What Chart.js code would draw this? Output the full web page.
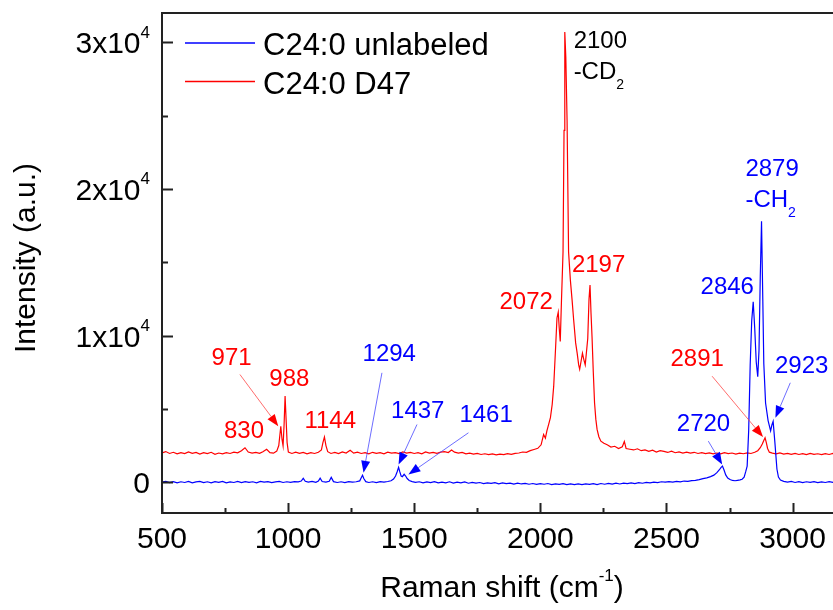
<!DOCTYPE html>
<html>
<head>
<meta charset="utf-8">
<script src="https://cdn.jsdelivr.net/npm/chart.js@4/dist/chart.umd.min.js"></script>
<style>
  html, body { margin: 0; padding: 0; overflow: hidden; background: #fff; }
  canvas { display: block; }
</style>
</head>
<body>
<canvas id="chart" width="843" height="610"></canvas>
<script>
// C24:0 D47 spectrum
const d47Shift = [
  500, 515, 530, 545, 560, 575, 590, 605, 620, 635,
  650, 665, 680, 695, 710, 725, 740, 755, 770, 785,
  800, 815, 829, 842, 857, 872, 887, 900, 915, 928,
  942, 955, 963, 971, 976, 980, 984, 988, 992, 996,
  1001, 1015, 1030, 1045, 1060, 1075, 1090, 1105, 1120, 1132,
  1138, 1144, 1150, 1157, 1170, 1185, 1200, 1215, 1230, 1246,
  1260, 1275, 1290, 1305, 1320, 1335, 1350, 1365, 1380, 1395,
  1410, 1425, 1440, 1455, 1470, 1485, 1500, 1515, 1530, 1545,
  1560, 1575, 1590, 1605, 1620, 1635, 1648, 1660, 1675, 1690,
  1705, 1720, 1735, 1750, 1765, 1780, 1795, 1810, 1825, 1840,
  1855, 1870, 1885, 1900, 1915, 1930, 1945, 1960, 1975, 1990,
  2003, 2013, 2020, 2026, 2033, 2040, 2047, 2053, 2060, 2066,
  2071, 2075, 2079, 2084, 2090, 2094, 2097, 2101, 2106, 2112,
  2119, 2126, 2132, 2140, 2146, 2152, 2156, 2162, 2167, 2172,
  2178, 2183, 2188, 2193, 2197, 2201, 2205, 2210, 2215, 2220,
  2225, 2232, 2240, 2252, 2265, 2280, 2295, 2310, 2325, 2333,
  2340, 2355, 2370, 2385, 2400, 2415, 2430, 2445, 2460, 2475,
  2490, 2505, 2520, 2535, 2550, 2565, 2580, 2595, 2610, 2625,
  2640, 2655, 2670, 2685, 2700, 2715, 2730, 2745, 2760, 2775,
  2790, 2805, 2820, 2835, 2850, 2862, 2872, 2880, 2886, 2891,
  2896, 2901, 2908, 2920, 2935, 2950, 2965, 2980, 2995, 3010,
  3025, 3040, 3055, 3070, 3085, 3100, 3115, 3130, 3145, 3160,
  3175, 3190, 3200
]
const d47Intensity = [
  2000, 2090, 1960, 2040, 1930, 2020, 1950, 2060, 1970, 2030,
  1920, 2010, 1950, 2040, 1900, 1990, 1940, 2020, 1960, 2050,
  2000, 2150, 2350, 2060, 1990, 2040, 1970, 2080, 2250, 2020,
  1980, 2120, 2500, 3820, 2900, 2480, 3900, 5870, 4300, 2700,
  2050, 1960, 2050, 1970, 2030, 1940, 2010, 1960, 2040, 2200,
  2700, 3080, 2500, 2080, 1960, 2030, 1950, 2060, 1990, 2180,
  1980, 2050, 1960, 2020, 1930, 2040, 1970, 2010, 1940, 2050,
  1980, 2020, 1950, 2060, 1990, 2030, 1960, 2010, 1940, 2060,
  1980, 2040, 1970, 2050, 2080, 2020, 2190, 2050, 1990, 2030,
  1940, 1980, 1910, 1960, 1890, 1940, 1880, 1930, 1870, 1920,
  1880, 1950, 1900, 1970, 1990, 2060, 2040, 2150, 2230, 2310,
  2550, 3250, 3000, 3500, 3950, 4400, 5300, 6550, 9000, 11200,
  11600, 10500, 9600, 12500, 15700, 24000, 30700, 29000, 24700, 15700,
  13800, 12400, 11100, 9500, 8800, 8000, 7700, 8300, 8800, 8400,
  8000, 8900, 9800, 12500, 13450, 11500, 9900, 7500, 5400, 4300,
  3600, 3100, 2800, 2650, 2550, 2400, 2450, 2300, 2420, 2780,
  2300, 2250, 2200, 2280, 2150, 2200, 2100, 2180, 2060, 2150,
  2100, 2030, 2120, 2010, 2070, 1990, 2050, 1980, 2040, 1960,
  2020, 1950, 2000, 1940, 1990, 1930, 2010, 1950, 1990, 1920,
  1980, 1940, 2000, 1960, 2040, 2150, 2350, 2600, 2850, 3030,
  2700, 2300, 2050, 1980, 1930, 2000, 1920, 1970, 1900, 1960,
  1890, 1950, 1880, 1960, 1900, 1940, 1880, 1950, 1890, 1960,
  1900, 1940, 1910
]

// C24:0 unlabeled spectrum
const unlabeledShift = [
  500, 515, 530, 545, 560, 575, 590, 605, 620, 635,
  650, 665, 680, 695, 710, 725, 740, 755, 770, 785,
  800, 815, 830, 845, 860, 875, 890, 905, 920, 935,
  950, 965, 980, 995, 1010, 1025, 1040, 1052, 1060, 1068,
  1080, 1095, 1110, 1120, 1127, 1135, 1150, 1163, 1171, 1180,
  1195, 1210, 1225, 1240, 1255, 1270, 1284, 1290, 1295, 1300,
  1308, 1320, 1335, 1350, 1365, 1380, 1395, 1408, 1418, 1426,
  1432, 1438, 1443, 1448, 1453, 1460, 1466, 1472, 1480, 1492,
  1505, 1520, 1535, 1550, 1565, 1580, 1595, 1610, 1625, 1640,
  1655, 1670, 1685, 1700, 1715, 1730, 1745, 1760, 1775, 1790,
  1805, 1820, 1835, 1850, 1865, 1880, 1895, 1910, 1925, 1940,
  1955, 1970, 1985, 2000, 2015, 2030, 2045, 2060, 2075, 2090,
  2105, 2120, 2135, 2150, 2165, 2180, 2195, 2210, 2225, 2240,
  2255, 2270, 2285, 2300, 2315, 2330, 2345, 2360, 2375, 2390,
  2405, 2420, 2435, 2450, 2465, 2480, 2495, 2510, 2525, 2540,
  2555, 2570, 2585, 2600, 2615, 2630, 2645, 2660, 2675, 2688,
  2700, 2710, 2716, 2722, 2728, 2735, 2743, 2752, 2762, 2772,
  2782, 2792, 2800, 2808, 2814, 2820, 2826, 2832, 2838, 2844,
  2850, 2856, 2862, 2867, 2872, 2877, 2882, 2886, 2893, 2903,
  2913, 2918, 2923, 2930, 2938, 2944, 2952, 2965, 2980, 2995,
  3010, 3025, 3040, 3055, 3070, 3085, 3100, 3115, 3130, 3145,
  3160, 3175, 3190, 3200
]
const unlabeledIntensity = [
  0, 60, -30, 40, -50, 30, -20, 50, -40, 20,
  60, -30, 30, -50, 40, -10, 60, -40, 20, -20,
  50, -30, 40, -10, 30, -40, 50, 0, 40, -30,
  20, 60, -20, 30, -10, 40, 20, 80, 260, 60,
  10, 50, -10, 80, 280, 50, 10, 60, 330, 40,
  -20, 30, -30, 40, 0, 30, 90, 300, 480, 250,
  40, -20, 30, -30, 40, 0, 50, 100, 220, 420,
  700, 1020, 700, 420, 380, 540, 420, 250, 120, 40,
  -10, 30, -40, 20, -30, 40, -50, 10, -40, 30,
  -60, 0, -50, 20, -70, -10, -60, -20, -90, -40,
  -80, -30, -110, -50, -100, -60, -130, -70, -120, -80,
  -140, -90, -150, -100, -140, -90, -160, -110, -150, -100,
  -170, -120, -160, -110, -170, -120, -150, -100, -160, -90,
  -140, -80, -130, -70, -120, -60, -100, -40, -90, -30,
  -70, -10, -50, 10, -30, 30, 0, 40, 10, 60,
  30, 80, 60, 110, 130, 180, 240, 300, 380, 480,
  650, 850, 1000, 1100, 850, 500, 280, 180, 120, 100,
  130, 160, 200, 350, 700, 1100, 3500, 8000, 11000, 12300,
  10500, 8200, 7200, 9000, 14000, 17800, 12500, 8100, 5400, 4200,
  3500, 3900, 4150, 2700, 900, 350, 150, 60, 10, 50,
  -20, 40, -30, 30, -10, 40, -30, 20, -20, 40,
  -10, 30, -20, 10
]

const xTicks = [500, 1000, 1500, 2000, 2500, 3000]
const xMinorTicks = [750, 1250, 1750, 2250, 2750]
const yTicks = [0, 10000, 20000, 30000]
const yMinorTicks = [5000, 15000, 25000]
const yTickLabels = [['0', ''], ['1x10', '4'], ['2x10', '4'], ['3x10', '4']]

// peak labels: text, shift, intensity (text centre)
const d47Peaks = [
  ['830', 825, 3600], ['971', 776, 8570], ['988', 1005, 7180], ['1144', 1167, 4280],
  ['2072', 1944, 12400], ['2197', 2231, 14900], ['2891', 2622, 8540]
]
const unlabeledPeaks = [
  ['1294', 1401, 8880], ['1437', 1514, 4960], ['1461', 1785, 4690],
  ['2720', 2647, 4110], ['2846', 2741, 13400], ['2923', 3036, 8030]
]
// arrows: from shift, from intensity, to shift, to intensity
const d47Arrows = [[809, 7345, 961, 3820], [2681, 7230, 2883, 3080]]
const unlabeledArrows = [
  [1372, 7460, 1299, 640], [1511, 3935, 1438, 1210], [1715, 3370, 1477, 525],
  [2666, 2800, 2721, 1210], [2991, 6780, 2932, 4390]
]

const BLUE = '#0000ff'
const RED = '#ff0000'
const FONT = '"Liberation Sans", Arial, sans-serif'

const toPoints = (xs, ys) => xs.map((x, i) => ({ x: x, y: ys[i] }))

function richText(ctx, parts, x, y, size, align, color) {
  const small = Math.round(size * 0.58)
  const widths = parts.map(([t, kind]) => {
    ctx.font = (kind ? small : size) + 'px ' + FONT
    return ctx.measureText(t).width
  })
  const total = widths.reduce((a, b) => a + b, 0)
  let cx = align === 'right' ? x - total : align === 'center' ? x - total / 2 : x
  ctx.fillStyle = color
  ctx.textAlign = 'left'
  ctx.textBaseline = 'alphabetic'
  parts.forEach(([t, kind], i) => {
    ctx.font = (kind ? small : size) + 'px ' + FONT
    const dy = kind === 'sup' ? -size * 0.52 : kind === 'sub' ? size * 0.4 : 0
    ctx.fillText(t, cx, y + dy)
    cx += widths[i]
  })
}

function arrow(ctx, x1, y1, x2, y2, lineColor, headColor) {
  const ang = Math.atan2(y2 - y1, x2 - x1)
  const len = 12, half = 4.5
  ctx.strokeStyle = lineColor
  ctx.lineWidth = 1
  ctx.beginPath()
  ctx.moveTo(x1, y1)
  ctx.lineTo(x2 - Math.cos(ang) * len, y2 - Math.sin(ang) * len)
  ctx.stroke()
  ctx.fillStyle = headColor
  ctx.beginPath()
  ctx.moveTo(x2, y2)
  ctx.lineTo(x2 - Math.cos(ang) * len - Math.sin(ang) * half, y2 - Math.sin(ang) * len + Math.cos(ang) * half)
  ctx.lineTo(x2 - Math.cos(ang) * len + Math.sin(ang) * half, y2 - Math.sin(ang) * len - Math.cos(ang) * half)
  ctx.closePath()
  ctx.fill()
}

const annotationPlugin = {
  id: 'peakNotes',
  afterDatasetsDraw(chart) {
    const { ctx, scales: { x, y } } = chart
    ctx.save()
    const label = (list, color) => list.forEach(([t, sx, sy]) => {
      richText(ctx, [[t, '']], x.getPixelForValue(sx), y.getPixelForValue(sy) + 8.6, 24, 'center', color)
    })
    label(d47Peaks, RED)
    label(unlabeledPeaks, BLUE)

    richText(ctx, [['2100', '']], x.getPixelForValue(2132), y.getPixelForValue(30190) + 8.6, 24, 'left', '#000')
    richText(ctx, [['-CD', ''], ['2', 'sub']], x.getPixelForValue(2132), y.getPixelForValue(28090) + 8.6, 24, 'left', '#000')
    richText(ctx, [['2879', '']], x.getPixelForValue(2813), y.getPixelForValue(21440) + 8.6, 24, 'left', BLUE)
    richText(ctx, [['-CH', ''], ['2', 'sub']], x.getPixelForValue(2813), y.getPixelForValue(19340) + 8.6, 24, 'left', BLUE)

    const arrows = (list, lineColor, headColor) => list.forEach(([a, b, c, d]) => {
      arrow(ctx, x.getPixelForValue(a), y.getPixelForValue(b), x.getPixelForValue(c), y.getPixelForValue(d), lineColor, headColor)
    })
    arrows(d47Arrows, 'rgba(255, 60, 60, 0.75)', RED)
    arrows(unlabeledArrows, 'rgba(60, 60, 255, 0.75)', BLUE)
    ctx.restore()
  }
}

const framePlugin = {
  id: 'frame',
  afterDraw(chart) {
    const { ctx, chartArea: area, scales: { x, y } } = chart
    ctx.save()
    ctx.strokeStyle = '#222'
    ctx.lineWidth = 2
    ctx.strokeRect(area.left, area.top, area.right - area.left, area.bottom - area.top)

    ctx.beginPath()
    xTicks.forEach(v => {
      const px = Math.round(x.getPixelForValue(v)) + 0.5
      ctx.moveTo(px, area.bottom); ctx.lineTo(px, area.bottom - 10)
    })
    xMinorTicks.forEach(v => {
      const px = Math.round(x.getPixelForValue(v)) + 0.5
      ctx.moveTo(px, area.bottom); ctx.lineTo(px, area.bottom - 5)
    })
    yTicks.forEach(v => {
      const py = Math.round(y.getPixelForValue(v)) + 0.5
      ctx.moveTo(area.left, py); ctx.lineTo(area.left + 11, py)
    })
    yMinorTicks.forEach(v => {
      const py = Math.round(y.getPixelForValue(v)) + 0.5
      ctx.moveTo(area.left, py); ctx.lineTo(area.left + 6, py)
    })
    ctx.stroke()

    xTicks.forEach(v => {
      richText(ctx, [[String(v), '']], x.getPixelForValue(v), area.bottom + 35, 30, 'center', '#000')
    })
    yTicks.forEach((v, i) => {
      const [base, sup] = yTickLabels[i]
      richText(ctx, [[base, ''], [sup, 'sup']], area.left - 12, y.getPixelForValue(v) + 11, 30, 'right', '#000')
    })

    // axis titles
    richText(ctx, [['Raman shift (cm', ''], ['-1', 'sup'], [')', '']], 502, 597, 30, 'center', '#000')
    ctx.save()
    ctx.translate(35, 258)
    ctx.rotate(-Math.PI / 2)
    richText(ctx, [['Intensity (a.u.)', '']], 0, 0, 30, 'center', '#000')
    ctx.restore()

    // legend
    chart.data.datasets.forEach((ds, i) => {
      const ly = 43 + i * 38.5
      ctx.strokeStyle = ds.borderColor
      ctx.lineWidth = 1.5
      ctx.beginPath()
      ctx.moveTo(185, ly); ctx.lineTo(255, ly)
      ctx.stroke()
      richText(ctx, [[ds.label, '']], 263, ly + 12, 31, 'left', '#000')
    })
    ctx.restore()
  }
}

new Chart(document.getElementById('chart'), {
  type: 'line',
  data: {
    datasets: [
      {
        label: 'C24:0 unlabeled',
        data: toPoints(unlabeledShift, unlabeledIntensity),
        borderColor: BLUE,
        borderWidth: 1.2,
        pointRadius: 0,
        tension: 0
      },
      {
        label: 'C24:0 D47',
        data: toPoints(d47Shift, d47Intensity),
        borderColor: RED,
        borderWidth: 1.2,
        pointRadius: 0,
        tension: 0
      }
    ]
  },
  options: {
    responsive: false,
    animation: false,
    layout: { padding: { left: 162, top: 13, right: 0, bottom: 97 } },
    plugins: {
      legend: { display: false },
      tooltip: { enabled: false }
    },
    scales: {
      x: { type: 'linear', min: 500, max: 3200, display: false },
      y: { type: 'linear', min: -2100, max: 32000, display: false }
    }
  },
  plugins: [annotationPlugin, framePlugin]
})
</script>
</body>
</html>
